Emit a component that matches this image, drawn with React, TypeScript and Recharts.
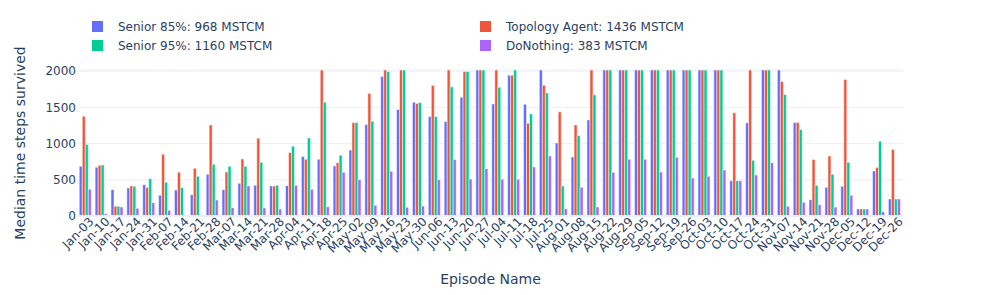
import { type ReactElement } from 'react'
import { BarChart, Bar, XAxis, YAxis, CartesianGrid, Legend } from 'recharts'

const episodes = [
  'Jan-03', 'Jan-10', 'Jan-17', 'Jan-24', 'Jan-31', 'Feb-07', 'Feb-14', 'Feb-21', 'Feb-28',
  'Mar-07', 'Mar-14', 'Mar-21', 'Mar-28', 'Apr-04', 'Apr-11', 'Apr-18', 'Apr-25',
  'May-02', 'May-09', 'May-16', 'May-23', 'May-30', 'Jun-06', 'Jun-13', 'Jun-20', 'Jun-27',
  'Jul-04', 'Jul-11', 'Jul-18', 'Jul-25', 'Aug-01', 'Aug-08', 'Aug-15', 'Aug-22', 'Aug-29',
  'Sep-05', 'Sep-12', 'Sep-19', 'Sep-26', 'Oct-03', 'Oct-10', 'Oct-17', 'Oct-24', 'Oct-31',
  'Nov-07', 'Nov-14', 'Nov-21', 'Nov-28', 'Dec-05', 'Dec-12', 'Dec-19', 'Dec-26',
]

const senior85 = [
  687, 673, 364, 387, 433, 286, 359, 295, 576, 364, 452, 424, 415, 419, 820, 783, 691,
  912, 1263, 1926, 1470, 1571, 1373, 1304, 1640, 2016, 1548, 1945, 1544, 2016, 1009, 816,
  1327, 2016, 2016, 2016, 2016, 2016, 2016, 2016, 2016, 488, 1286, 2016, 2016, 1290, 226,
  396, 410, 97, 622, 235,
]

const topology = [
  1378, 700, 134, 415, 392, 852, 604, 659, 1258, 608, 788, 1074, 415, 876, 783, 2016, 737,
  1290, 1691, 2016, 2016, 1553, 1802, 2016, 1995, 2016, 2016, 1945, 1281, 1806, 1438, 1258,
  2016, 2016, 2016, 2016, 2016, 2016, 2016, 2016, 2016, 1424, 2016, 2016, 1857, 1290, 779,
  829, 1885, 97, 668, 917,
]

const senior95 = [
  986, 705, 134, 410, 516, 465, 392, 548, 714, 687, 687, 742, 424, 963, 1078, 1571, 839,
  1290, 1309, 1995, 2016, 1567, 1373, 1783, 1995, 2016, 1779, 2016, 1410, 1700, 415, 1111,
  1673, 2016, 2016, 2016, 2016, 2016, 2016, 2016, 2016, 488, 770, 2016, 1677, 1193, 424,
  576, 742, 97, 1032, 235,
]

const doNothing = [
  369, 32, 124, 106, 184, 78, 14, 18, 221, 115, 419, 111, 97, 424, 369, 129, 604,
  502, 147, 617, 120, 138, 502, 779, 511, 654, 507, 507, 677, 829, 101, 396,
  124, 604, 783, 783, 608, 811, 525, 548, 636, 488, 567, 737, 134, 189, 157,
  124, 286, 97, 60, 235,
]

const yTicks = [0, 500, 1000, 1500, 2000]

const series = [
  { key: 'senior85', name: 'Senior 85%: 968 MSTCM', color: '#636efa' },
  { key: 'topology', name: 'Topology Agent: 1436 MSTCM', color: '#EF553B' },
  { key: 'senior95', name: 'Senior 95%: 1160 MSTCM', color: '#00cc96' },
  { key: 'doNothing', name: 'DoNothing: 383 MSTCM', color: '#ab63fa' },
]

const data = episodes.map((name, i) => ({
  name,
  senior85: senior85[i],
  topology: topology[i],
  senior95: senior95[i],
  doNothing: doNothing[i],
}))

const FONT = "'DejaVu Sans', sans-serif"
const TEXT = '#2a3f5f'

function EpisodeTick({ x, y, payload }: any): ReactElement {
  return (
    <g transform={`translate(${x},${y})`}>
      <text
        x={3}
        y={0}
        dy={9}
        textAnchor="end"
        transform="rotate(-45)"
        fill={TEXT}
        fontSize={12}
        fontFamily={FONT}
      >
        {payload.value}
      </text>
    </g>
  )
}

function YTitle({ viewBox }: any): ReactElement {
  const cy = viewBox.y + viewBox.height / 2
  return (
    <text
      x={20}
      y={cy}
      transform={`rotate(-90, 20, ${cy})`}
      textAnchor="middle"
      dominantBaseline="central"
      fill={TEXT}
      fontSize={14}
      fontFamily={FONT}
    >
      Median time steps survived
    </text>
  )
}

function XTitle({ viewBox }: any): ReactElement {
  return (
    <text
      x={viewBox.x + viewBox.width / 2}
      y={279}
      textAnchor="middle"
      dominantBaseline="central"
      fill={TEXT}
      fontSize={14}
      fontFamily={FONT}
    >
      Episode Name
    </text>
  )
}

function LegendBox(): ReactElement {
  return (
    <div
      style={{
        display: 'grid',
        gridTemplateColumns: '388px 300px',
        rowGap: 8,
        fontFamily: FONT,
        fontSize: 12,
        color: TEXT,
      }}
    >
      {series.map((s) => (
        <div key={s.key} style={{ display: 'flex', alignItems: 'center', height: 11 }}>
          <span
            style={{ width: 11, height: 11, background: s.color, display: 'inline-block', marginRight: 15 }}
          />
          <span style={{ whiteSpace: 'nowrap' }}>{s.name}</span>
        </div>
      ))}
    </div>
  )
}

export default function App(): ReactElement {
  return (
    <div style={{ position: 'fixed', left: 0, top: 0, width: 981, height: 295, background: '#fff' }}>
      <BarChart
        width={981}
        height={295}
        data={data}
        margin={{ top: 70, right: 78, bottom: 0, left: 0 }}
        barCategoryGap="8%"
        barGap={0}
      >
        <CartesianGrid vertical={false} stroke="#EBF0F8" strokeWidth={1} />
        <XAxis
          dataKey="name"
          interval={0}
          height={79}
          axisLine={{ stroke: '#EBF0F8', strokeWidth: 2 }}
          tickLine={false}
          tickSize={0}
          tickMargin={2}
          tick={<EpisodeTick />}
          label={<XTitle />}
        />
        <YAxis
          width={78}
          domain={[0, 2016]}
          ticks={yTicks}
          allowDataOverflow
          axisLine={false}
          tickLine={false}
          tickSize={0}
          tickMargin={2}
          tick={{ fill: TEXT, fontSize: 12, fontFamily: FONT }}
          label={<YTitle />}
        />
        <Legend
          layout="horizontal"
          verticalAlign="middle"
          align="center"
          content={<LegendBox />}
          wrapperStyle={{ top: 21, left: 92, width: 700 }}
        />
        {series.map((s) => (
          <Bar
            key={s.key}
            dataKey={s.key}
            name={s.name}
            fill={s.color}
            stroke="#ffffff"
            strokeWidth={0.5}
            isAnimationActive={false}
          />
        ))}
      </BarChart>
    </div>
  )
}
